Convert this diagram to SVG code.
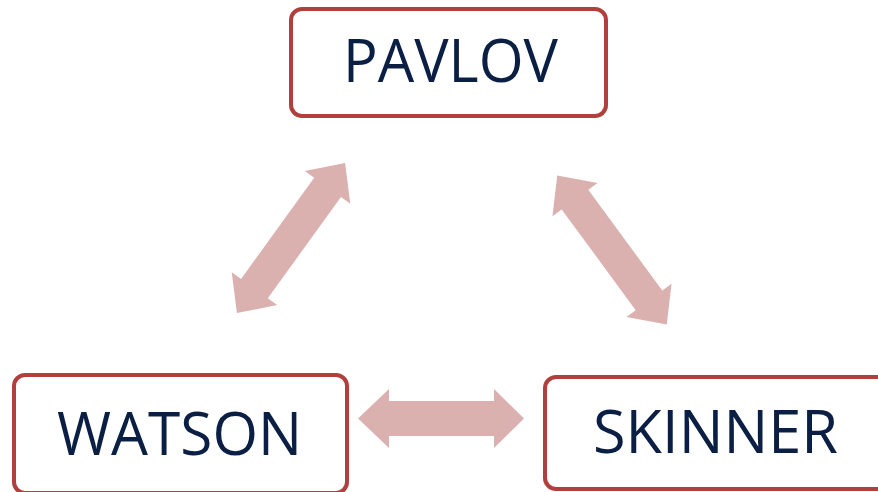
<svg xmlns="http://www.w3.org/2000/svg" width="878" height="492" viewBox="0 0 878 492">
<defs>
<style>
.box{fill:#ffffff;stroke:#b1403d;stroke-width:4}
.lbl{font-family:"Open Sans","Noto Sans",sans-serif;font-size:60px;fill:#0b1f45;text-anchor:middle}
.arr{fill:#dbb1b0}
</style>
<path id="dbl" d="M-92.5,0 L-62.5,-28 L-62.5,-16.5 L62.5,-16.5 L62.5,-28 L92.5,0 L62.5,28 L62.5,16.5 L-62.5,16.5 L-62.5,28 Z"/>
</defs>
<rect width="878" height="492" fill="#ffffff"/>
<g id="connectors" class="arr">
<use href="#dbl" transform="translate(291,238) rotate(-54.2)"/>
<use href="#dbl" transform="translate(612,250) rotate(53.7)"/>
<path d="M358,418.5 L389,389 L389,401 L494,401 L494,389 L524,418.5 L494,448 L494,436 L389,436 L389,448 Z"/>
</g>
<g id="pavlov">
<rect class="box" x="291" y="9" width="315" height="107" rx="11"/>
<text class="lbl" x="450.5" y="82" textLength="215" lengthAdjust="spacingAndGlyphs">PAVLOV</text>
</g>
<g id="watson">
<rect class="box" x="14" y="375" width="333" height="118" rx="11"/>
<text class="lbl" x="179.5" y="455" textLength="245" lengthAdjust="spacingAndGlyphs">WATSON</text>
</g>
<g id="skinner">
<rect class="box" x="545" y="377" width="350" height="112" rx="11"/>
<text class="lbl" x="715.5" y="453" textLength="245" lengthAdjust="spacingAndGlyphs">SKINNER</text>
</g>
</svg>
